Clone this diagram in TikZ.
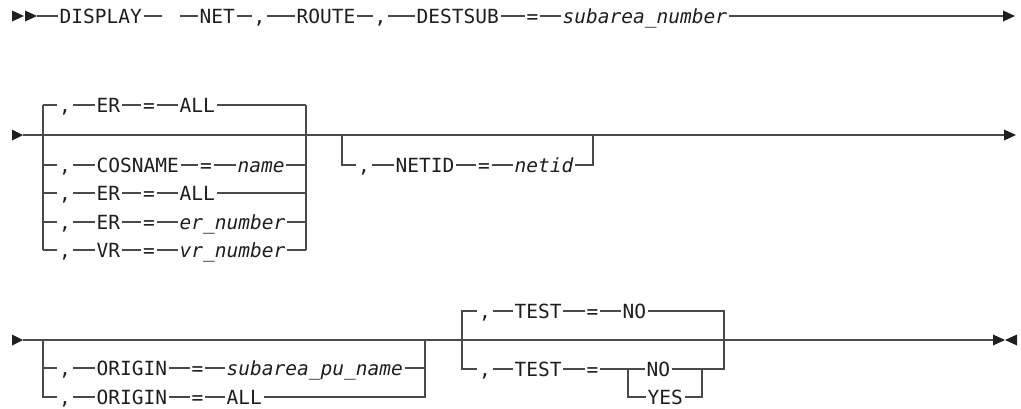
\documentclass[tikz,border=0pt]{standalone}
\usepackage{fontspec}
\setmonofont{DejaVu Sans Mono}
\usepackage{tikz}
\definecolor{railgray}{HTML}{4A4A4A}
\definecolor{inkblack}{HTML}{1E1E1E}

\begin{document}
\begin{tikzpicture}[
  x=1pt, y=-1pt,
  every node/.style={font=\ttfamily\fontsize{19.5}{22}\selectfont, text=inkblack,
    inner sep=1.5pt, text height=14pt, text depth=0pt},
  kw/.style={anchor=west},
  var/.style={anchor=west, font=\ttfamily\itshape\fontsize{19.5}{22}\selectfont},
  sym/.style={anchor=center},
  rail/.style={draw=railgray, line width=1.3pt},
  tipfill/.style={fill=black!88}
]
\useasboundingbox (0,0) rectangle (1021,408);

% first line
\fill[tipfill] (12,10.5) -- (24,16) -- (12,21.5) -- cycle;
\fill[tipfill] (25,10.5) -- (37,16) -- (25,21.5) -- cycle;
\coordinate (startA) at (37,16);
\node[kw] (display) at (58,16) {DISPLAY};
\coordinate (gapL) at (162,16);
\coordinate (gapR) at (180,16);
\node[kw] (net) at (198,16) {NET};
\node[sym] (commaA) at (259.5,16) {,};
\node[kw] (route) at (295,16) {ROUTE};
\node[sym] (commaB) at (380.5,16) {,};
\node[kw] (destsub) at (415,16) {DESTSUB};
\node[sym] (eqA) at (532.5,16) {=};
\node[var] (subnum) at (561,16) {subarea\_number};
\coordinate (endA) at (1003,16);
\fill[tipfill] (1003,10.5) -- (1015,16) -- (1003,21.5) -- cycle;
\draw[rail] (startA) -- (display.west);
\draw[rail] (display.east) -- (gapL);
\draw[rail] (gapR) -- (net.west);
\draw[rail] (net.east) -- (commaA.west);
\draw[rail] (commaA.east) -- (route.west);
\draw[rail] (route.east) -- (commaB.west);
\draw[rail] (commaB.east) -- (destsub.west);
\draw[rail] (destsub.east) -- (eqA.west);
\draw[rail] (eqA.east) -- (subnum.west);
\draw[rail] (subnum.east) -- (endA);

% second line
\fill[tipfill] (12,129.5) -- (23,135) -- (12,140.5) -- cycle;
\coordinate (startB) at (23,135);
\coordinate (endB) at (1004,135);
\fill[tipfill] (1004,129.5) -- (1016,135) -- (1004,140.5) -- cycle;
\draw[rail] (startB) -- (endB);
\coordinate (brTL) at (43,105);
\coordinate (brBL) at (43,250);
\coordinate (brTR) at (306,105);
\coordinate (brBR) at (306,250);
\draw[rail] (brTL) -- (brBL);
\draw[rail] (brTR) -- (brBR);

\node[sym] (cmTop) at (65,105) {,};
\node[kw] (erTop) at (95,105) {ER};
\node[sym] (eqTop) at (149,105) {=};
\node[kw] (allTop) at (178,105) {ALL};
\node[sym] (cmCos) at (65,165) {,};
\node[kw] (cos) at (95,165) {COSNAME};
\node[sym] (eqCos) at (206,165) {=};
\node[var] (nameCos) at (236,165) {name};
\node[sym] (cmErA) at (65,193) {,};
\node[kw] (erA) at (95,193) {ER};
\node[sym] (eqErA) at (149,193) {=};
\node[kw] (allErA) at (178,193) {ALL};
\node[sym] (cmErN) at (65,222) {,};
\node[kw] (erN) at (95,222) {ER};
\node[sym] (eqErN) at (149,222) {=};
\node[var] (numEr) at (178,222) {er\_number};
\node[sym] (cmVr) at (65,250) {,};
\node[kw] (vr) at (95,250) {VR};
\node[sym] (eqVr) at (149,250) {=};
\node[var] (numVr) at (178,250) {vr\_number};

\draw[rail] (brTL) -- (cmTop.west);
\draw[rail] (cmTop.east) -- (erTop.west);
\draw[rail] (erTop.east) -- (eqTop.west);
\draw[rail] (eqTop.east) -- (allTop.west);
\draw[rail] (allTop.east) -- (brTR);
\draw[rail] (cmCos.west -| brTL) -- (cmCos.west);
\draw[rail] (cmCos.east) -- (cos.west);
\draw[rail] (cos.east) -- (eqCos.west);
\draw[rail] (eqCos.east) -- (nameCos.west);
\draw[rail] (nameCos.east) -- (nameCos.east -| brTR);
\draw[rail] (cmErA.west -| brTL) -- (cmErA.west);
\draw[rail] (cmErA.east) -- (erA.west);
\draw[rail] (erA.east) -- (eqErA.west);
\draw[rail] (eqErA.east) -- (allErA.west);
\draw[rail] (allErA.east) -- (allErA.east -| brTR);
\draw[rail] (cmErN.west -| brTL) -- (cmErN.west);
\draw[rail] (cmErN.east) -- (erN.west);
\draw[rail] (erN.east) -- (eqErN.west);
\draw[rail] (eqErN.east) -- (numEr.west);
\draw[rail] (numEr.east) -- (numEr.east -| brTR);
\draw[rail] (brBL) -- (cmVr.west);
\draw[rail] (cmVr.east) -- (vr.west);
\draw[rail] (vr.east) -- (eqVr.west);
\draw[rail] (eqVr.east) -- (numVr.west);
\draw[rail] (numVr.east) -- (brBR);

\coordinate (netidL) at (342,135);
\coordinate (netidR) at (593,135);
\node[sym] (cmNet) at (364,165) {,};
\node[kw] (netidKey) at (394,165) {NETID};
\node[sym] (eqNet) at (484,165) {=};
\node[var] (netidVal) at (513,165) {netid};
\draw[rail] (netidL) |- (cmNet.west);
\draw[rail] (cmNet.east) -- (netidKey.west);
\draw[rail] (netidKey.east) -- (eqNet.west);
\draw[rail] (eqNet.east) -- (netidVal.west);
\draw[rail] (netidVal.east) -| (netidR);

% third line
\fill[tipfill] (12,334.5) -- (23,340) -- (12,345.5) -- cycle;
\coordinate (startC) at (23,340);
\coordinate (endC) at (993,340);
\fill[tipfill] (993,334.5) -- (1005,340) -- (993,345.5) -- cycle;
\fill[tipfill] (1017,334.5) -- (1005,340) -- (1017,345.5) -- cycle;
\draw[rail] (startC) -- (endC);
\coordinate (thickL) at (727,340);
\coordinate (thickR) at (755,340);
\draw[rail, line width=2.3pt] (thickL) -- (thickR);

\coordinate (orgTL) at (43,340);
\coordinate (orgTR) at (425,340);
\node[sym] (cmOrgA) at (65,368) {,};
\node[kw] (orgA) at (95,368) {ORIGIN};
\node[sym] (eqOrgA) at (197.5,368) {=};
\node[var] (subpu) at (225,368) {subarea\_pu\_name};
\node[sym] (cmOrgB) at (65,397) {,};
\node[kw] (orgB) at (95,397) {ORIGIN};
\node[sym] (eqOrgB) at (197.5,397) {=};
\node[kw] (allOrg) at (225,397) {ALL};
\draw[rail] (orgTL) |- (cmOrgB.west);
\draw[rail] (cmOrgA.west -| orgTL) -- (cmOrgA.west);
\draw[rail] (cmOrgA.east) -- (orgA.west);
\draw[rail] (orgA.east) -- (eqOrgA.west);
\draw[rail] (eqOrgA.east) -- (subpu.west);
\draw[rail] (subpu.east) -- (subpu.east -| orgTR);
\draw[rail] (cmOrgB.east) -- (orgB.west);
\draw[rail] (orgB.east) -- (eqOrgB.west);
\draw[rail] (eqOrgB.east) -- (allOrg.west);
\draw[rail] (allOrg.east) -| (orgTR);

\coordinate (tstBL) at (462,369);
\coordinate (tstBR) at (724,369);
\coordinate (innerL) at (628,369);
\coordinate (innerR) at (702,369);
\node[sym] (cmTstA) at (485,311) {,};
\node[kw] (tstA) at (513,311) {TEST};
\node[sym] (eqTstA) at (592.5,311) {=};
\node[kw] (noTstA) at (621,311) {NO};
\node[sym] (cmTstB) at (485,369) {,};
\node[kw] (tstB) at (513,369) {TEST};
\node[sym] (eqTstB) at (592.5,369) {=};
\node[kw] (noTstB) at (645,369) {NO};
\node[kw] (yesTst) at (646,397) {YES};
\draw[rail] (cmTstA.west) -| (tstBL) -- (cmTstB.west);
\draw[rail] (cmTstA.east) -- (tstA.west);
\draw[rail] (tstA.east) -- (eqTstA.west);
\draw[rail] (eqTstA.east) -- (noTstA.west);
\draw[rail] (noTstA.east) -| (tstBR) -- (innerR);
\draw[rail] (cmTstB.east) -- (tstB.west);
\draw[rail] (tstB.east) -- (eqTstB.west);
\draw[rail] (eqTstB.east) -- (innerL) -- (noTstB.west);
\draw[rail] (innerL) |- (yesTst.west);
\draw[rail] (noTstB.east) -- (innerR);
\draw[rail] (yesTst.east) -| (innerR);
\end{tikzpicture}
\end{document}
